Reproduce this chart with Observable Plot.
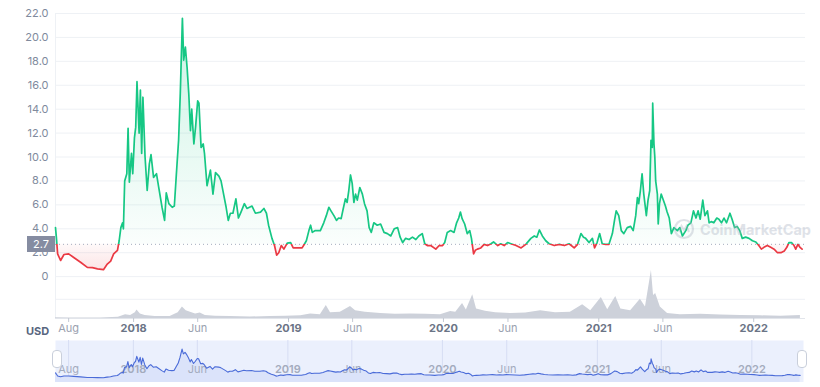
<!DOCTYPE html>
<html><head><meta charset="utf-8">
<script src="https://cdn.jsdelivr.net/npm/d3@7"></script>
<script src="https://cdn.jsdelivr.net/npm/@observablehq/plot@0.6"></script>
<style>
html,body{margin:0;padding:0;background:#fff;}
#wrap{position:relative;width:820px;height:387px;font-family:Inter,"Noto Sans",sans-serif;overflow:hidden;}
.layer{position:absolute;}
</style></head><body><div id="wrap"></div>
<script>
const priceDates = ["2017-07-01","2017-07-03","2017-07-06","2017-07-13","2017-07-21","2017-08-01","2017-08-13","2017-08-29","2017-09-14","2017-09-26","2017-10-08","2017-10-22","2017-10-31","2017-11-08","2017-11-15","2017-11-24","2017-11-28","2017-12-02","2017-12-06","2017-12-08","2017-12-11","2017-12-16","2017-12-19","2017-12-22","2017-12-27","2017-12-30","2018-01-03","2018-01-06","2018-01-09","2018-01-14","2018-01-17","2018-01-20","2018-01-23","2018-01-28","2018-02-02","2018-02-07","2018-02-11","2018-02-17","2018-02-24","2018-03-01","2018-03-09","2018-03-15","2018-03-19","2018-03-25","2018-04-02","2018-04-07","2018-04-12","2018-04-17","2018-04-21","2018-04-26","2018-04-29","2018-05-03","2018-05-07","2018-05-11","2018-05-15","2018-05-18","2018-05-23","2018-05-27","2018-06-01","2018-06-04","2018-06-09","2018-06-14","2018-06-17","2018-06-23","2018-07-01","2018-07-07","2018-07-13","2018-07-21","2018-07-26","2018-08-01","2018-08-07","2018-08-12","2018-08-17","2018-08-23","2018-08-30","2018-09-05","2018-09-11","2018-09-19","2018-09-25","2018-10-07","2018-10-15","2018-10-27","2018-11-04","2018-11-10","2018-11-15","2018-11-23","2018-11-29","2018-12-04","2018-12-09","2018-12-15","2018-12-21","2018-12-29","2019-01-06","2019-01-12","2019-01-21","2019-02-02","2019-02-08","2019-02-12","2019-02-18","2019-02-22","2019-02-26","2019-03-05","2019-03-17","2019-03-25","2019-03-31","2019-04-06","2019-04-11","2019-04-18","2019-04-24","2019-04-29","2019-05-05","2019-05-10","2019-05-15","2019-05-19","2019-05-23","2019-05-27","2019-05-31","2019-06-04","2019-06-08","2019-06-12","2019-06-18","2019-06-24","2019-06-29","2019-07-05","2019-07-10","2019-07-15","2019-07-21","2019-07-29","2019-08-06","2019-08-14","2019-08-22","2019-08-30","2019-09-07","2019-09-15","2019-09-21","2019-09-27","2019-10-04","2019-10-12","2019-10-20","2019-10-28","2019-11-04","2019-11-12","2019-11-18","2019-11-24","2019-12-02","2019-12-14","2019-12-22","2019-12-30","2020-01-04","2020-01-10","2020-01-18","2020-01-26","2020-02-01","2020-02-06","2020-02-10","2020-02-14","2020-02-20","2020-02-26","2020-03-03","2020-03-07","2020-03-12","2020-03-16","2020-03-21","2020-03-29","2020-04-06","2020-04-14","2020-04-22","2020-04-28","2020-05-08","2020-05-15","2020-05-23","2020-05-31","2020-06-08","2020-06-20","2020-07-02","2020-07-13","2020-07-25","2020-08-02","2020-08-08","2020-08-14","2020-08-21","2020-08-29","2020-09-06","2020-09-18","2020-09-30","2020-10-12","2020-10-23","2020-11-04","2020-11-12","2020-11-20","2020-11-26","2020-12-01","2020-12-09","2020-12-17","2020-12-22","2020-12-28","2021-01-03","2021-01-09","2021-01-17","2021-01-25","2021-02-02","2021-02-07","2021-02-11","2021-02-17","2021-02-23","2021-03-01","2021-03-09","2021-03-17","2021-03-23","2021-03-29","2021-04-02","2021-04-05","2021-04-09","2021-04-13","2021-04-17","2021-04-23","2021-04-27","2021-05-01","2021-05-04","2021-05-07","2021-05-08","2021-05-11","2021-05-13","2021-05-15","2021-05-19","2021-05-21","2021-05-24","2021-05-28","2021-06-02","2021-06-07","2021-06-11","2021-06-16","2021-06-21","2021-06-27","2021-07-05","2021-07-11","2021-07-17","2021-07-25","2021-07-30","2021-08-06","2021-08-12","2021-08-18","2021-08-23","2021-08-28","2021-09-03","2021-09-08","2021-09-14","2021-09-18","2021-09-23","2021-09-29","2021-10-06","2021-10-11","2021-10-17","2021-10-23","2021-10-29","2021-11-06","2021-11-11","2021-11-17","2021-11-23","2021-11-29","2021-12-05","2021-12-13","2021-12-21","2021-12-29","2022-01-06","2022-01-13","2022-01-19","2022-01-25","2022-02-02","2022-02-10","2022-02-18","2022-02-26","2022-03-06","2022-03-14","2022-03-20","2022-03-25","2022-03-31","2022-04-06","2022-04-10","2022-04-15","2022-04-20","2022-04-25"];
const prices = [4.1,3.3,1.9,1.35,1.85,1.9,1.6,1.2,0.77,0.75,0.65,0.58,1.05,1.3,1.9,2.2,3.0,4.1,4.5,4.0,8.0,8.6,12.4,7.9,10.3,8.6,11.6,12.5,16.3,12.0,15.6,10.3,15.0,10.0,7.2,9.4,10.2,8.3,8.6,7.5,5.8,4.7,7.0,6.1,5.8,5.9,8.7,11.4,15.3,21.6,18.1,19.2,17.5,15.3,12.2,14.0,11.1,12.5,14.7,14.5,10.8,11.1,10.3,7.6,8.9,6.9,8.7,8.4,8.0,6.9,5.8,4.7,5.3,5.3,6.5,4.9,5.4,6.1,5.7,5.9,5.3,5.4,5.7,5.3,4.3,3.2,2.6,1.8,2.0,2.6,2.3,2.8,2.85,2.4,2.4,2.4,2.75,3.0,3.85,4.3,3.7,3.85,3.85,4.5,5.1,5.8,5.5,5.1,4.7,4.9,4.85,5.7,6.5,6.2,7.2,8.5,7.8,6.2,6.9,6.4,7.45,6.9,6.1,5.5,4.1,3.7,4.5,4.3,4.4,3.7,3.6,3.4,4.0,4.1,3.3,2.85,3.2,3.1,3.3,3.1,3.4,3.6,2.75,2.6,2.6,2.3,2.6,2.6,2.85,3.7,3.85,3.7,4.5,4.9,5.4,4.85,4.4,3.6,3.85,3.2,1.9,2.2,2.3,2.4,2.7,2.6,2.75,2.9,2.6,2.75,2.6,2.85,2.75,2.6,2.4,2.7,3.2,3.4,3.3,3.9,3.4,3.0,2.75,2.6,2.7,2.6,2.75,2.4,2.7,3.6,3.3,3.2,2.85,3.2,2.4,2.85,3.6,2.75,2.7,2.7,3.6,4.7,5.5,5.1,3.85,3.6,4.1,4.2,3.85,5.1,6.6,6.1,7.2,8.6,6.9,5.1,6.4,7.2,11.4,10.8,14.5,11.1,10.0,8.0,6.9,4.4,6.1,6.9,6.4,5.9,5.4,4.9,3.6,4.1,3.85,4.1,3.4,3.85,4.3,4.5,5.5,4.9,5.5,4.8,6.4,5.1,5.5,4.5,4.6,4.5,4.9,4.8,4.5,4.9,4.5,5.3,4.8,4.1,4.2,3.85,3.2,3.3,3.2,3.0,2.9,2.6,2.3,2.45,2.6,2.45,2.3,2.0,2.0,2.15,2.45,2.85,2.85,2.6,2.3,2.7,2.45,2.3];

const volumeDates = ["2017-07-01","2017-08-05","2017-10-15","2017-11-26","2017-12-13","2017-12-25","2018-01-05","2018-01-09","2018-01-17","2018-01-28","2018-02-21","2018-03-28","2018-04-16","2018-04-26","2018-05-05","2018-05-15","2018-05-27","2018-06-07","2018-06-19","2018-07-13","2018-08-17","2018-10-03","2018-11-19","2018-12-25","2019-01-30","2019-02-22","2019-03-17","2019-03-31","2019-04-10","2019-05-03","2019-05-27","2019-06-08","2019-07-01","2019-08-06","2019-09-10","2019-10-16","2019-11-20","2019-12-25","2020-01-18","2020-01-30","2020-02-15","2020-02-24","2020-03-10","2020-03-19","2020-04-09","2020-05-03","2020-06-08","2020-07-13","2020-08-17","2020-09-21","2020-10-26","2020-11-24","2020-12-13","2021-01-07","2021-01-22","2021-02-10","2021-02-22","2021-03-17","2021-04-09","2021-04-21","2021-05-05","2021-05-10","2021-05-15","2021-05-26","2021-06-12","2021-07-12","2021-08-29","2021-10-15","2021-12-01","2022-01-17","2022-03-06","2022-04-21"];
const volumes = [0.2,0.1,0.1,0.3,1.0,0.8,1.5,2.2,1.2,0.8,0.5,0.5,1.5,3.0,2.0,1.6,1.2,1.4,0.8,0.6,0.5,0.4,0.5,0.6,0.7,1.2,1.0,3.4,1.5,1.6,3.1,2.0,1.6,1.3,1.1,1.2,1.1,1.0,1.8,1.6,3.9,2.2,6.2,2.5,1.9,1.5,1.3,1.4,2.0,1.5,1.6,3.6,2.0,5.5,2.3,5.7,2.5,2.0,5.0,3.0,12.5,6.0,6.5,3.0,1.3,1.0,1.1,0.9,0.8,0.7,0.6,0.8];

const currentPrice = 2.7;
const yTicks = [0,2,4,6,8,10,12,14,16,18,20,22];
const xTickDates = ["2017-08-01","2018-01-01","2018-06-01","2019-01-01","2019-06-01","2020-01-01","2020-06-01","2021-01-01","2021-06-01","2022-01-01"];
const xTickLabels = ["Aug","2018","Jun","2019","Jun","2020","Jun","2021","Jun","2022"];
const xStart = "2017-07-01", xEnd = "2022-05-03";

const parse = d3.utcParse("%Y-%m-%d");
const price = priceDates.map((d,i)=>({date:parse(d), v:prices[i]}));
const vol = volumeDates.map((d,i)=>({date:parse(d), v:volumes[i]}));
const ticks = xTickDates.map((d,i)=>({date:parse(d), label:xTickLabels[i], year:/^\d{4}$/.test(xTickLabels[i])}));
const xDomain = [parse(xStart), parse(xEnd)];
const FONT = "Inter, 'Noto Sans', sans-serif";
const wrap = document.getElementById("wrap");

// ---------- main price chart ----------
const H = 320;
const main = Plot.plot({
  width: 820, height: H, marginLeft: 55, marginRight: 15, marginTop: 13, marginBottom: 2,
  x: {type: "utc", domain: xDomain, axis: null},
  y: {domain: [-3.5, 22], axis: null},
  style: {background: "transparent", fontFamily: FONT},
  marks: [
    Plot.ruleY(yTicks, {stroke: "#eef1f5", strokeWidth: 1}),
    Plot.ruleX([xDomain[0]], {stroke: "#eef1f5"}),
    Plot.text(yTicks, {x: () => xDomain[0], y: d => d, text: d => d === 0 ? "0" : d.toFixed(1),
      textAnchor: "end", dx: -7, fill: "#808a9d", fontSize: 11}),
    Plot.areaY(price, {x: "date", y1: () => currentPrice, y2: d => Math.max(d.v, currentPrice), fill: "url(#gUp)"}),
    Plot.areaY(price, {x: "date", y1: () => currentPrice, y2: d => Math.min(d.v, currentPrice), fill: "url(#gDown)"}),
    Plot.ruleY([currentPrice], {stroke: "#a3acbd", strokeDasharray: "1 3"}),
    Plot.line(price, {x: "date", y: "v", stroke: "url(#gLine)", strokeWidth: 1.7})
  ]
});
{
  const ys = main.scale("y");
  const baseY = ys.apply(currentPrice), topY = ys.apply(22), botY = ys.apply(0);
  const defs = d3.select(main).insert("defs", ":first-child");
  const up = defs.append("linearGradient").attr("id", "gUp").attr("gradientUnits", "userSpaceOnUse")
    .attr("x1", 0).attr("x2", 0).attr("y1", topY).attr("y2", baseY);
  up.append("stop").attr("offset", 0).attr("stop-color", "#16c784").attr("stop-opacity", 0.22);
  up.append("stop").attr("offset", 1).attr("stop-color", "#16c784").attr("stop-opacity", 0.02);
  const dn = defs.append("linearGradient").attr("id", "gDown").attr("gradientUnits", "userSpaceOnUse")
    .attr("x1", 0).attr("x2", 0).attr("y1", baseY).attr("y2", botY);
  dn.append("stop").attr("offset", 0).attr("stop-color", "#ea3943").attr("stop-opacity", 0.03);
  dn.append("stop").attr("offset", 1).attr("stop-color", "#ea3943").attr("stop-opacity", 0.16);
  const ln = defs.append("linearGradient").attr("id", "gLine").attr("gradientUnits", "userSpaceOnUse")
    .attr("x1", 0).attr("x2", 0).attr("y1", 0).attr("y2", H);
  const o = baseY / H;
  ln.append("stop").attr("offset", 0).attr("stop-color", "#16c784");
  ln.append("stop").attr("offset", o).attr("stop-color", "#16c784");
  ln.append("stop").attr("offset", o).attr("stop-color", "#ea3943");
  ln.append("stop").attr("offset", 1).attr("stop-color", "#ea3943");
}
main.classList.add("layer"); main.style.left = "0px"; main.style.top = "0px";
wrap.appendChild(main);

// ---------- volume + x axis ----------
const volPlot = Plot.plot({
  width: 820, height: 78, marginLeft: 55, marginRight: 15, marginTop: 8, marginBottom: 22,
  x: {type: "utc", domain: xDomain, axis: null},
  y: {domain: [0, 12.5], axis: null},
  style: {background: "transparent", fontFamily: FONT, overflow: "visible"},
  marks: [
    Plot.ruleY([5], {stroke: "#eef1f5"}),
    Plot.areaY(vol, {x: "date", y: "v", fill: "#cdd1da"}),
    Plot.ruleY([0], {stroke: "#e2e5eb"}),
    Plot.ruleX(ticks, {x: "date", insetTop: 48, insetBottom: -4, stroke: "#c3c8d2"}),
    Plot.text(ticks.filter(t => !t.year), {x: "date", text: "label", frameAnchor: "bottom", dy: 13, fill: "#9aa1af", fontSize: 11}),
    Plot.text(ticks.filter(t => t.year), {x: "date", text: "label", frameAnchor: "bottom", dy: 13, fill: "#6b7486", fontSize: 11, fontWeight: "bold"})
  ]
});
volPlot.classList.add("layer"); volPlot.style.left = "0px"; volPlot.style.top = "262px";
wrap.appendChild(volPlot);

// ---------- navigator ----------
const nav = Plot.plot({
  width: 820, height: 42, marginLeft: 55, marginRight: 17, marginTop: 0, marginBottom: 0,
  x: {type: "utc", domain: xDomain, axis: null},
  y: {domain: [-2.9, 27.9], axis: null},
  style: {background: "transparent", fontFamily: FONT},
  marks: [
    Plot.frame({fill: "#ebf0fd", stroke: null}),
    Plot.ruleX(ticks, {x: "date", stroke: "#d6ddf3"}),
    Plot.areaY(price, {x: "date", y1: () => -2.9, y2: "v", fill: "#dbe3fa"}),
    Plot.text(ticks.filter(t => !t.year), {x: "date", text: "label", frameAnchor: "bottom", dy: -10, fill: "#a3abbd", fontSize: 11}),
    Plot.text(ticks.filter(t => t.year), {x: "date", text: "label", frameAnchor: "bottom", dy: -10, fill: "#a3abbd", fontSize: 11, fontWeight: 600}),
    Plot.line(price, {x: "date", y: "v", stroke: "#4a6bd8", strokeWidth: 1.1})
  ]
});
nav.classList.add("layer"); nav.style.left = "0px"; nav.style.top = "340px";
wrap.appendChild(nav);

// ---------- HTML decorations ----------
function addDiv(css, html) {
  const d = document.createElement("div");
  d.className = "layer"; d.style.cssText = css; d.innerHTML = html || ""; wrap.appendChild(d); return d;
}
// current price tag
addDiv("left:27px;top:236px;width:28px;height:16px;background:#858ca1;color:#fff;font-size:11px;line-height:16px;text-align:center;", "2.7");
// USD label
addDiv("left:26px;top:324px;font-size:11px;font-weight:700;color:#58667e;line-height:14px;", "USD");
// navigator handles
addDiv("left:52px;top:350px;width:8px;height:16px;background:#fff;border:1px solid #c9cfdb;border-radius:4px;", "");
addDiv("left:797px;top:350px;width:8px;height:16px;background:#fff;border:1px solid #c9cfdb;border-radius:4px;", "");
// watermark
addDiv("left:673px;top:218px;display:flex;align-items:center;gap:5px;opacity:0.35;color:#a6aebe;font-size:14.5px;font-weight:700;",
  '<svg width="22" height="22" viewBox="0 0 22 22"><circle cx="11" cy="11" r="9" fill="none" stroke="#a6aebe" stroke-width="2.2"/><path d="M6 14 L8.5 8 L11 12 L13.5 8 L16 14" fill="none" stroke="#a6aebe" stroke-width="2"/></svg><span>CoinMarketCap</span>');
</script>
</body></html>
